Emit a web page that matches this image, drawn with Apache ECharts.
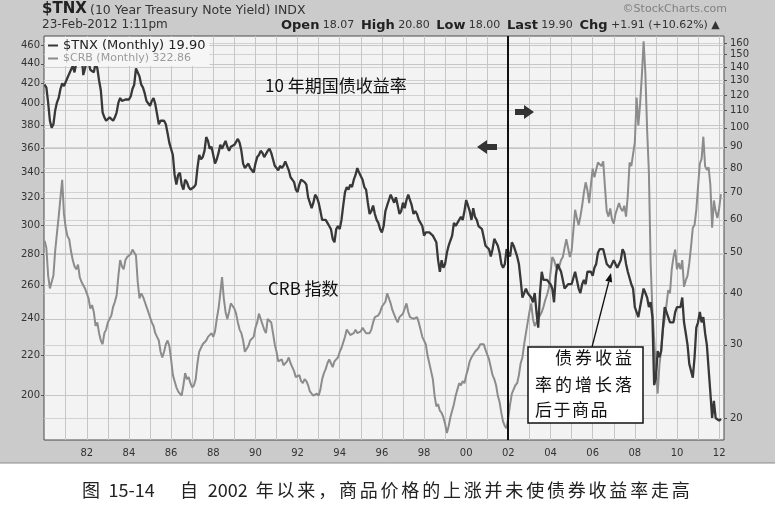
<!DOCTYPE html>
<html>
<head>
<meta charset="utf-8">
<script src="https://cdn.jsdelivr.net/npm/echarts@6/dist/echarts.min.js"></script>
<style>
html,body{margin:0;padding:0;background:#fff;}
#c{width:775px;height:515px;}
</style>
</head>
<body>
<div id="c"></div>
<script>
// ---- data (monthly, starting Jan 1980) ----
const startYear = 1980;
const startMonth = 1;
// $TNX (10 Year Treasury Note Yield x10), monthly
const tnx = [
  127,125,115,104,100,102,110,115,118,124,128,126, // 1980
  126,132,131,138,141,136,143,150,156,152,134,139, // 1981
  146,144,138,139,136,143,139,130,123,109,106,104, // 1982
  105,106,105,104,106,109,115,118,116,116,117,118, // 1983
  117,119,124,127,139,139,133,127,125,121,116,115, // 1984
  113,116,118,114,108,102,104,103,104,102,97,92,   // 1985
  92,86,77,73,77,78,73,71,75,74,72,71,             // 1986
  71,72,73,80,86,84,85,88,95,93,89,90,             // 1987
  86,82,84,87,91,89,91,93,90,88,90,91,             // 1988
  91,92,94,92,88,82,80,81,82,80,79,78,             // 1989
  82,85,86,88,87,85,85,88,89,87,84,81,             // 1990
  81,79,81,80,81,83,83,79,76,75,74,71,             // 1991
  70,73,75,75,74,73,68,66,64,66,69,68,             // 1992
  66,63,60,60,60,59,58,57,54,53,57,58,             // 1993
  57,60,65,70,72,71,73,72,75,77,80,78,             // 1994
  78,75,72,71,66,62,63,65,62,60,59,57,             // 1995
  56,58,63,65,67,69,69,66,68,65,62,63,             // 1996
  66,64,67,69,67,65,62,63,62,60,59,58,             // 1997
  55,56,56,56,56,55,55,53,48,45,48,46,             // 1998
  47,50,52,52,55,59,58,59,59,61,60,63,             // 1999
  67,65,63,60,64,61,60,58,58,57,57,52,             // 2000
  52,51,49,51,54,53,52,50,47,46,47,51,             // 2001
  50,49,53,52,52,49,47,43,39,39,41,40,             // 2002
  40,39,38,40,36,33,40,45,43,43,43,43,             // 2003
  42,41,38,44,47,47,45,43,41,41,42,42,             // 2004
  42,42,45,43,41,40,42,43,42,45,45,45,             // 2005
  44,46,47,50,51,51,51,49,47,47,46,46,             // 2006
  48,47,46,47,48,51,50,47,45,45,42,41,             // 2007
  37,37,35,37,39,41,40,39,37,38,35,24,             // 2008
  25,29,28,29,33,37,36,36,34,34,34,36,             // 2009
  37,37,37,39,34,32,30,27,27,25,28,33,             // 2010
  34,36,34,35,32,30,30,23,20,22,20,20,             // 2011
  19.7,19.9                                        // 2012
];
// $CRB (Reuters/Jefferies CRB index), monthly
const crb = [
  289,284,266,258,259,266,282,294,306,320,334,308, // 1980
  298,292,290,282,276,272,270,273,265,262,260,258, // 1981
  255,252,246,248,244,236,238,232,228,226,232,234, // 1982
  238,240,242,247,250,254,266,276,272,270,276,278, // 1983
  279,280,283,281,279,262,252,255,253,250,247,244, // 1984
  243,238,236,232,230,228,222,219,222,226,228,225, // 1985
  218,210,207,204,202,201,200,205,211,208,209,206, // 1986
  204,205,208,216,222,223,226,225,228,230,231,232, // 1987
  230,233,240,246,255,265,252,244,240,244,249,248, // 1988
  246,243,238,234,232,228,222,221,225,228,227,230, // 1989
  235,238,243,240,237,234,232,240,241,238,232,226, // 1990
  222,217,216,218,215,214,217,219,216,214,212,209, // 1991
  209,210,207,206,208,207,205,202,201,200,200,201, // 1992
  200,203,208,211,213,216,218,216,214,217,216,219, // 1993
  222,224,227,230,234,233,231,230,232,234,232,233, // 1994
  233,235,234,232,231,232,234,238,241,240,242,244, // 1995
  247,246,250,255,252,249,245,244,240,238,241,240, // 1996
  243,246,249,244,241,242,240,241,241,238,234,230, // 1997
  229,226,220,216,212,208,200,195,196,193,192,190, // 1998
  187,183,186,190,193,196,200,203,206,205,207,206, // 1999
  210,213,217,219,220,222,222,224,226,227,226,223, // 2000
  222,218,214,210,208,205,200,197,192,188,186,185, // 2001
  190,196,201,203,205,206,210,216,219,226,232,238, // 2002
  244,249,240,236,238,240,241,244,247,251,254,258, // 2003
  268,278,276,272,270,272,276,278,284,290,284,278, // 2004
  282,296,311,305,300,306,314,324,332,326,316,330, // 2005
  343,336,342,348,349,345,349,328,310,306,312,304, // 2006
  301,308,312,316,312,310,314,306,322,348,345,355, // 2007
  365,406,380,400,428,464,430,376,340,274,245,229, // 2008
  212,201,215,223,234,240,248,257,255,270,278,283, // 2009
  270,274,270,276,259,263,266,274,285,298,300,311, // 2010
  329,347,351,370,345,342,344,330,298,318,310,305, // 2011
  312,322.86                                       // 2012
];
const leftTicks = [200,220,240,260,280,300,320,340,360,380,400,420,440,460];
const rightTicks = [20,30,40,50,60,70,80,90,100,110,120,130,140,150,160];
const xLabelYears = [1982,1984,1986,1988,1990,1992,1994,1996,1998,2000,2002,2004,2006,2008,2010,2012];
const gridYears = [1981,1982,1983,1984,1985,1986,1987,1988,1989,1990,1991,1992,1993,1994,1995,1996,1997,1998,1999,2000,2001,2002,2003,2004,2005,2006,2007,2008,2009,2010,2011,2012];
const markerYear = 2001.96;
const legendNames = ['$TNX (Monthly) 19.90', '$CRB (Monthly) 322.86'];

// ---- build ----
const monthX = i => startYear + (startMonth - 1 + i) / 12;
const tnxData = tnx.map((v,i)=>[monthX(i), v]);
const crbData = crb.map((v,i)=>[monthX(i), v]);

const FONT = 'DejaVu Sans';
const CJK = 'Noto Sans CJK SC';
const GRIDC = '#c6c6c6';

// annotation pointer arrow
const tip = [611,273], tail = [592,347];
const dx = tip[0]-tail[0], dy = tip[1]-tail[1], L = Math.hypot(dx,dy);
const ux = dx/L, uy = dy/L, px = -uy, py = ux;
const hb = [tip[0]-9*ux, tip[1]-9*uy];
const headPts = [tip, [hb[0]+3.5*px, hb[1]+3.5*py], [hb[0]-3.5*px, hb[1]-3.5*py]];

function charRow(str, x0, pitch, yc){
  return str.split('').map((ch,i)=>({
    type:'text', z:101, left: x0 + i*pitch, top: yc-10,
    style:{text:ch, font:'17px "'+CJK+'"', fill:'#111'}
  }));
}
// spaced caption layout: CJK chars on a wide pitch, ASCII runs kept together
const mctx = document.createElement('canvas').getContext('2d');
function spacedText(str, x0, top, size, cjkPitch, spacePitch){
  const font = size+'px "'+CJK+'"';
  mctx.font = font;
  const out = []; let x = x0; let run = '';
  const flush = () => {
    if (run){ out.push({type:'text', z:50, left:x, top:top, style:{text:run, font:font, fill:'#222'}});
      x += mctx.measureText(run).width + 1; run = ''; }
  };
  for (const ch of str){
    if (ch === ' ') { flush(); x += spacePitch; }
    else if (ch.charCodeAt(0) > 255) { flush(); out.push({type:'text', z:50, left:x, top:top, style:{text:ch, font:font, fill:'#222'}}); x += cjkPitch; }
    else run += ch;
  }
  flush();
  return out;
}

const graphics = [
  {type:'rect', z:0, silent:true, shape:{x:0,y:463,width:775,height:52}, style:{fill:'#ffffff'}},
  {type:'line', z:0, silent:true, shape:{x1:0,y1:463,x2:775,y2:463}, style:{stroke:'#8a8a8a',lineWidth:1}},
  // header
  {type:'text', z:50, left:42, top:2, style:{text:'$TNX', font:'bold 15px "'+FONT+'"', fill:'#222'}},
  {type:'text', z:50, left:90, top:4, style:{text:'(10 Year Treasury Note Yield) INDX', font:'12.5px "'+FONT+'"', fill:'#333'}},
  {type:'text', z:50, left:42, top:19, style:{text:'23-Feb-2012 1:11pm', font:'12px "'+FONT+'"', fill:'#333'}},
  {type:'text', z:50, right:48, top:4, style:{text:'©StockCharts.com', font:'11px "'+FONT+'"', fill:'#808080'}},
  {type:'text', z:50, left:281, top:19, style:{
    text:'{b|Open} {n|18.07}  {b|High} {n|20.80}  {b|Low} {n|18.00}  {b|Last} {n|19.90}  {b|Chg} {n|+1.91 (+10.62%)} {n|▲}',
    rich:{b:{font:'bold 13px "'+FONT+'"', fill:'#222'}, n:{font:'11px "'+FONT+'"', fill:'#333'}}
  }},
  // chart texts
  {type:'text', z:100, left:265, top:77, style:{text:'10 年期国债收益率', font:'17px "'+CJK+'"', fill:'#111'}},
  {type:'text', z:100, left:268, top:280, style:{text:'CRB 指数', font:'17px "'+CJK+'"', fill:'#111'}},
  // block arrows
  {type:'polygon', z:100, shape:{points:[[477,147],[487,140],[487,144],[497,144],[497,150],[487,150],[487,154]]}, style:{fill:'#333'}},
  {type:'polygon', z:100, shape:{points:[[534,112],[524,105],[524,109],[515,109],[515,115],[524,115],[524,119]]}, style:{fill:'#333'}},
  // annotation box + pointer
  {type:'line', z:100, shape:{x1:tail[0],y1:tail[1],x2:hb[0],y2:hb[1]}, style:{stroke:'#111',lineWidth:1.3}},
  {type:'polygon', z:100, shape:{points:headPts}, style:{fill:'#111'}},
  {type:'rect', z:100, shape:{x:528,y:347,width:115,height:76}, style:{fill:'#fff',stroke:'#111',lineWidth:1.5}},
  ...charRow('债券收益', 555, 20, 359),
  ...charRow('率的增长落', 535, 20, 386),
  ...charRow('后于商品', 535, 18.5, 411),
  // caption
  ...spacedText('图 15-14', 82, 481, 18, 20.5, 6),
  ...spacedText('自 2002 年以来，商品价格的上涨并未使债券收益率走高', 180, 481, 18, 20.8, 7)
];

const chart = echarts.init(document.getElementById('c'));
chart.setOption({
  animation:false,
  backgroundColor:'#cbcbcb',
  grid:{left:44, right:51, top:36, bottom:75, show:true, backgroundColor:'#f3f3f3', borderColor:'#4a4a4a', borderWidth:1},
  legend:{
    left:45, top:37, orient:'vertical', itemGap:1, itemWidth:10, itemHeight:2, icon:'rect',
    backgroundColor:'#f6f6f6', padding:[2,4,2,3], selectedMode:false,
    textStyle:{fontFamily:FONT, fontSize:11},
    data:[{name:legendNames[0], textStyle:{color:'#222', fontSize:13}}, {name:legendNames[1], textStyle:{color:'#9a9a9a'}}]
  },
  xAxis:{
    type:'value', min:1979.97, max:2012.23,
    axisLine:{show:false},
    axisTick:{show:false, customValues:gridYears},
    splitLine:{show:true, lineStyle:{color:GRIDC, width:1}},
    axisLabel:{customValues:xLabelYears, formatter:v=>String(Math.round(v)).slice(2),
      color:'#333', fontFamily:FONT, fontSize:10, margin:8}
  },
  yAxis:[
    {type:'log', logBase:10, position:'left', min:180, max:470,
      axisLine:{show:false},
      axisTick:{show:true, length:3, customValues:leftTicks, lineStyle:{color:'#555'}},
      splitLine:{show:true, lineStyle:{color:GRIDC, width:1}},
      axisLabel:{customValues:leftTicks, color:'#333', fontFamily:FONT, fontSize:10, margin:4}
    },
    {type:'log', logBase:10, position:'right', min:17.7, max:166.4,
      axisLine:{show:false},
      axisTick:{show:true, length:3, customValues:rightTicks, lineStyle:{color:'#555'}},
      splitLine:{show:true, lineStyle:{color:'#d2d2d2', width:1}},
      axisLabel:{customValues:rightTicks, color:'#333', fontFamily:FONT, fontSize:10, margin:6}
    }
  ],
  series:[
    {name:legendNames[0], type:'line', yAxisIndex:1, data:tnxData, showSymbol:false, symbol:'none',
      color:'#383838', lineStyle:{color:'#383838', width:2.3}, z:3,
      markLine:{symbol:'none', silent:true, label:{show:false}, lineStyle:{color:'#111', width:2, type:'solid'},
        data:[{xAxis:markerYear}]}
    },
    {name:legendNames[1], type:'line', yAxisIndex:0, data:crbData, showSymbol:false, symbol:'none',
      color:'#8c8c8c', lineStyle:{color:'#8c8c8c', width:2}, z:2}
  ],
  graphic:graphics
});
</script>
</body>
</html>
